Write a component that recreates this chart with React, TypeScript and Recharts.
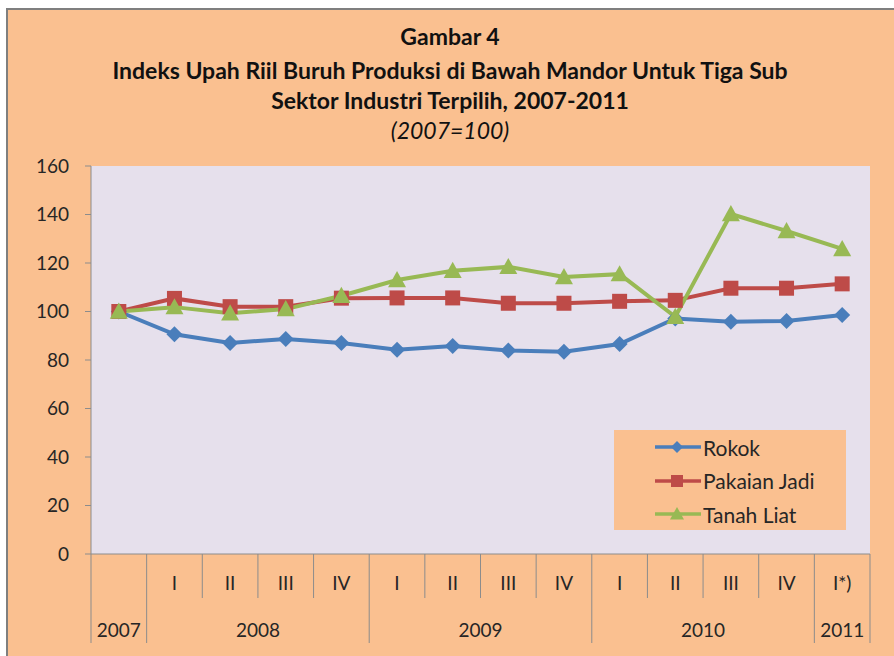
import { CartesianGrid, Legend, Line, LineChart, XAxis, YAxis } from "recharts";

const periodKeys = [
  "2007", "2008-I", "2008-II", "2008-III", "2008-IV",
  "2009-I", "2009-II", "2009-III", "2009-IV",
  "2010-I", "2010-II", "2010-III", "2010-IV", "2011-I",
];
const periods = ["", "I", "II", "III", "IV", "I", "II", "III", "IV", "I", "II", "III", "IV", "I*)"];
const yearLabels = ["2007", "2008", "2009", "2010", "2011"];
const yearSpans = [1, 4, 4, 4, 1];

const rokok = [100, 90.6, 87, 88.7, 87, 84.2, 85.8, 83.9, 83.4, 86.6, 97.1, 95.8, 96.1, 98.6];
const pakaianJadi = [100, 105.4, 102, 102, 105.5, 105.6, 105.6, 103.4, 103.4, 104.2, 104.6, 109.6, 109.6, 111.4];
const tanahLiat = [100, 101.8, 99.3, 101, 106.5, 113, 116.8, 118.4, 114.2, 115.4, 97.8, 140.2, 133.2, 125.8];
const yTicks = [0, 20, 40, 60, 80, 100, 120, 140, 160];

const W = 894;
const H = 656;
const MARGIN = { top: 166, right: 24, bottom: 0, left: 0 };
const YAXIS_W = 91;
const XAXIS_H = 102;
const PLOT_W = W - MARGIN.left - MARGIN.right - YAXIS_W;
const STEP = PLOT_W / periodKeys.length;
const AXIS_Y = H - MARGIN.bottom - XAXIS_H;

const FONT = "Lato, 'Open Sans', sans-serif";
const AXIS_GREY = "#8c8c8c";
const TEXT = "#262626";

const BLUE = "#4A7EBB";
const RED = "#BE4B48";
const GREEN = "#98B954";

const data = periodKeys.map((key, i) => ({
  key,
  rokok: rokok[i],
  pakaianJadi: pakaianJadi[i],
  tanahLiat: tanahLiat[i],
}));

// index of the first category in each year group
const groupStarts = yearSpans.map((_, g) => yearSpans.slice(0, g).reduce((a, b) => a + b, 0));

function Diamond({ cx, cy, fill, r = 8 }: any) {
  return <polygon points={`${cx},${cy - r} ${cx + r},${cy} ${cx},${cy + r} ${cx - r},${cy}`} fill={fill} />;
}
function Square({ cx, cy, fill, r = 7.5 }: any) {
  return <rect x={cx - r} y={cy - r} width={r * 2} height={r * 2} fill={fill} />;
}
function Triangle({ cx, cy, fill, r = 9 }: any) {
  return <polygon points={`${cx},${cy - r} ${cx + r},${cy + r * 0.8} ${cx - r},${cy + r * 0.8}`} fill={fill} />;
}

const dotOf = (Shape: any, fill: string) => (p: any) =>
  p.cx == null ? <g key={`e-${p.index}`} /> : <Shape key={`d-${p.index}`} cx={p.cx} cy={p.cy} fill={fill} />;

function CategoryTick(props: any) {
  const { x, payload } = props;
  const i = payload.index;
  const left = x - STEP / 2;
  const g = groupStarts.indexOf(i);
  const isLast = i === periodKeys.length - 1;
  return (
    <g>
      <line x1={left} x2={left} y1={AXIS_Y} y2={AXIS_Y + (g >= 0 ? 89 : 44)} stroke={AXIS_GREY} />
      {isLast && (
        <line x1={left + STEP} x2={left + STEP} y1={AXIS_Y} y2={AXIS_Y + 89} stroke={AXIS_GREY} />
      )}
      <text x={x} y={AXIS_Y + 36} textAnchor="middle" fontSize={19} fill={TEXT} fontFamily={FONT}>
        {periods[i]}
      </text>
      {g >= 0 && (
        <text
          x={left + (yearSpans[g] * STEP) / 2}
          y={AXIS_Y + 83}
          textAnchor="middle"
          fontSize={19}
          fill={TEXT}
          fontFamily={FONT}
        >
          {yearLabels[g]}
        </text>
      )}
    </g>
  );
}

const legendItems = [
  { label: "Rokok", color: BLUE, Shape: Diamond },
  { label: "Pakaian Jadi", color: RED, Shape: Square },
  { label: "Tanah Liat", color: GREEN, Shape: Triangle },
];

function LegendBox() {
  return (
    <div style={{ background: "#FAC090", width: 232, height: 100, position: "relative" }}>
      {legendItems.map((it, i) => (
        <div
          key={it.label}
          style={{ position: "absolute", left: 40, top: 4 + i * 33.5, height: 26, display: "flex", alignItems: "center" }}
        >
          <svg width={48} height={26}>
            <line x1={1} x2={47} y1={13} y2={13} stroke={it.color} strokeWidth={3.5} />
            <it.Shape cx={23} cy={13} fill={it.color} r={it.label === "Tanah Liat" ? 7 : 6} />
          </svg>
          <span style={{ fontFamily: FONT, fontSize: 21, color: TEXT, marginLeft: 1 }}>{it.label}</span>
        </div>
      ))}
    </div>
  );
}

export default function App() {
  const titleStyle = {
    position: "absolute" as const,
    left: 3,
    width: W,
    textAlign: "center" as const,
    fontFamily: FONT,
    fontWeight: 700,
    fontSize: 23,
    color: "#111",
    lineHeight: "26px",
  };
  return (
    <div style={{ position: "absolute", left: 0, top: 0, width: W, height: H, background: "#fff", overflow: "hidden" }}>
      <div
        style={{
          position: "absolute",
          left: 6,
          top: 8,
          right: 0,
          bottom: 0,
          background: "#FAC090",
          borderTop: "2px solid #7f7f7f",
          borderLeft: "2px solid #7f7f7f",
        }}
      />
      <div style={{ ...titleStyle, top: 23 }}>Gambar 4</div>
      <div style={{ ...titleStyle, top: 57 }}>Indeks Upah Riil Buruh Produksi di Bawah Mandor Untuk Tiga Sub</div>
      <div style={{ ...titleStyle, top: 87 }}>Sektor Industri Terpilih, 2007-2011</div>
      <div style={{ ...titleStyle, top: 117, fontWeight: 400, fontStyle: "italic" }}>(2007=100)</div>
      <div style={{ position: "absolute", left: 0, top: 0 }}>
        <LineChart width={W} height={H} data={data} margin={MARGIN}>
          <CartesianGrid fill="#E6E0EC" horizontal={false} vertical={false} />
          <XAxis
            dataKey="key"
            height={XAXIS_H}
            padding={{ left: STEP / 2, right: STEP / 2 }}
            axisLine={{ stroke: AXIS_GREY }}
            tickLine={false}
            interval={0}
            tick={<CategoryTick />}
          />
          <YAxis
            width={YAXIS_W}
            domain={[0, 160]}
            ticks={yTicks}
            interval={0}
            axisLine={{ stroke: AXIS_GREY }}
            tickLine={{ stroke: AXIS_GREY }}
            tickSize={6}
            tickMargin={16}
            tick={{ fontSize: 19, fill: TEXT, fontFamily: FONT }}
          />
          <Legend
            layout="horizontal"
            verticalAlign="middle"
            align="center"
            wrapperStyle={{ left: 614, top: 430, width: 232, height: 100 }}
            content={<LegendBox />}
          />
          <Line
            dataKey="rokok"
            name="Rokok"
            stroke={BLUE}
            strokeWidth={4}
            dot={dotOf(Diamond, BLUE)}
            activeDot={false}
            isAnimationActive={false}
          />
          <Line
            dataKey="pakaianJadi"
            name="Pakaian Jadi"
            stroke={RED}
            strokeWidth={4}
            dot={dotOf(Square, RED)}
            activeDot={false}
            isAnimationActive={false}
          />
          <Line
            dataKey="tanahLiat"
            name="Tanah Liat"
            stroke={GREEN}
            strokeWidth={4}
            dot={dotOf(Triangle, GREEN)}
            activeDot={false}
            isAnimationActive={false}
          />
        </LineChart>
      </div>
    </div>
  );
}
